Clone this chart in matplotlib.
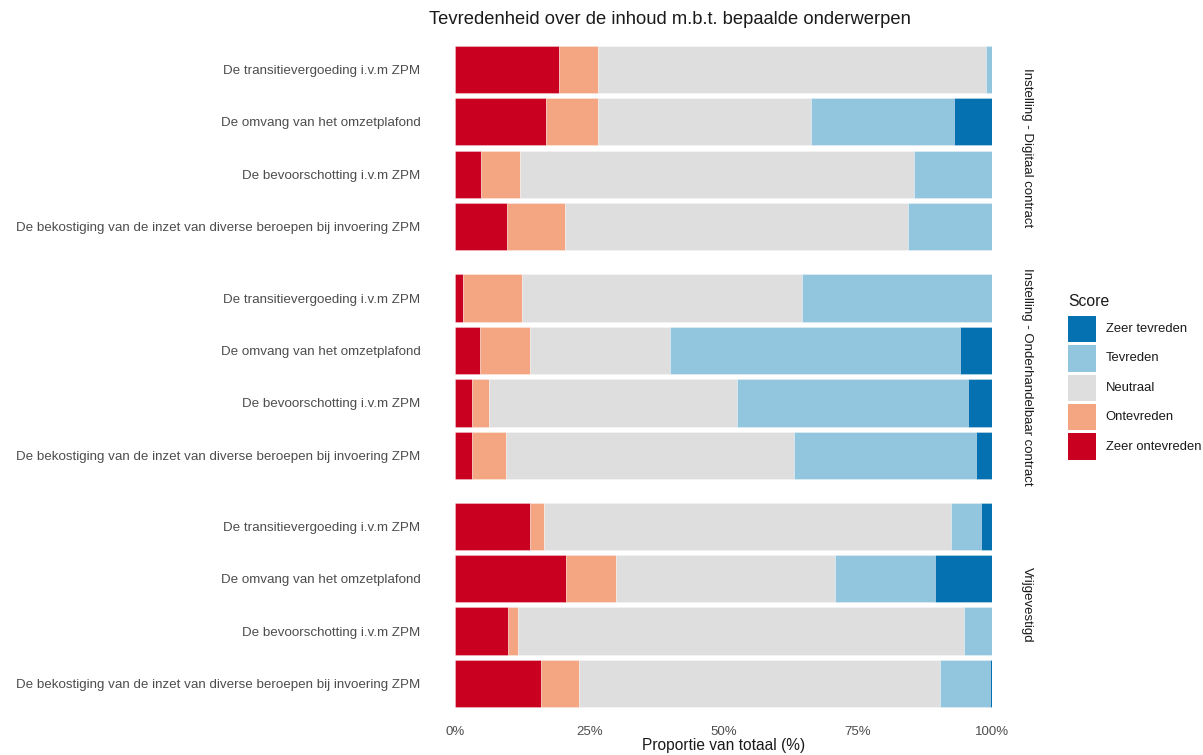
import matplotlib
matplotlib.use("Agg")
import matplotlib.pyplot as plt
from matplotlib.patches import Rectangle
import numpy as np

plt.rcParams['font.family'] = ['Liberation Sans', 'DejaVu Sans']

topics = ["De transitievergoeding i.v.m ZPM",
          "De omvang van het omzetplafond",
          "De bevoorschotting i.v.m ZPM",
          "De bekostiging van de inzet van diverse beroepen bij invoering ZPM"]
groups = ["Instelling - Digitaal contract",
          "Instelling - Onderhandelbaar contract",
          "Vrijgevestigd"]
scores = ["Zeer ontevreden", "Ontevreden", "Neutraal", "Tevreden", "Zeer tevreden"]
colors = ["#CA0020", "#F4A582", "#DEDEDE", "#92C5DE", "#0571B0"]

# percentages per group, per score, per topic (topic order as above)
zeer_ontevreden = [[19.4, 16.9, 4.8, 9.6], [1.5, 4.6, 3.2, 3.2], [13.9, 20.6, 9.8, 16.0]]
ontevreden      = [[7.1, 9.6, 7.2, 10.9], [10.9, 9.3, 3.1, 6.2], [2.6, 9.3, 1.9, 7.1]]
neutraal        = [[72.3, 39.7, 73.5, 63.8], [52.2, 26.1, 46.1, 53.7], [75.9, 40.8, 83.1, 67.2]]
tevreden        = [[1.2, 26.7, 14.5, 15.7], [35.4, 53.9, 43.1, 33.9], [5.5, 18.6, 5.2, 9.3]]
zeer_tevreden   = [[0.0, 7.1, 0.0, 0.0], [0.0, 6.1, 4.5, 3.0], [2.1, 10.7, 0.0, 0.4]]

series = [zeer_ontevreden, ontevreden, neutraal, tevreden, zeer_tevreden]

W, H = 1203, 755
fig = plt.figure(figsize=(W / 100, H / 100), dpi=100)

left_px, right_px = 455.3, 992.3
panels_px = [(37.7, 258.3), (266.6, 486.8), (494.8, 714.9)]
txt_col = "#4D4D4D"
dark = "#1A1A1A"

for gi, (top, bot) in enumerate(panels_px):
    ax = fig.add_axes([left_px / W, 1 - bot / H, (right_px - left_px) / W, (bot - top) / H])
    y = np.arange(len(topics))
    cum = np.zeros(len(topics))
    for si, s in enumerate(series):
        vals = np.array(s[gi], dtype=float)
        ax.barh(y, vals, left=cum, height=0.9, color=colors[si],
                edgecolor=(1, 1, 1, 0.35), linewidth=0.6)
        cum += vals
    ax.set_xlim(0, 100)
    ax.set_ylim(len(topics) - 0.4, -0.6)
    ax.set_yticks(y)
    ax.set_yticklabels(topics, fontsize=9.6, color=txt_col)
    ax.tick_params(axis='y', length=0, pad=25)
    for sp in ax.spines.values():
        sp.set_visible(False)
    ax.set_xticks([0, 25, 50, 75, 100])
    if gi < 2:
        ax.tick_params(axis='x', length=0, labelbottom=False)
    else:
        ax.set_xticklabels(["0%", "25%", "50%", "75%", "100%"], fontsize=9.5, color=txt_col)
        ax.tick_params(axis='x', length=0, pad=8)
        ax.set_xlabel("Proportie van totaal (%)", fontsize=11.2, color=dark, labelpad=0)
    ax.text(1.065, 0.5, groups[gi], transform=ax.transAxes, rotation=-90,
            ha='center', va='center', fontsize=9.5, color=dark)

fig.text(670 / W, 1 - 20 / H, "Tevredenheid over de inhoud m.b.t. bepaalde onderwerpen",
         ha='center', va='center', fontsize=13.2, color=dark)

# legend (drawn in figure pixel positions)
fig.text(1068 / W, 1 - 301 / H, "Score", ha='left', va='center', fontsize=11.3, color=dark)
key_x, key_w, key_h, key_top0, key_step = 1068, 28, 26.5, 315.7, 29.4
order = [4, 3, 2, 1, 0]
for k, si in enumerate(order):
    t = key_top0 + k * key_step
    fig.patches.append(Rectangle((key_x / W, 1 - (t + key_h) / H), key_w / W, key_h / H,
                                 transform=fig.transFigure, facecolor=colors[si],
                                 edgecolor='none'))
    fig.text(1105.5 / W, 1 - (t + key_h / 2) / H, scores[si], ha='left', va='center',
             fontsize=9.4, color=dark)

fig.savefig("out.png", dpi=100)
